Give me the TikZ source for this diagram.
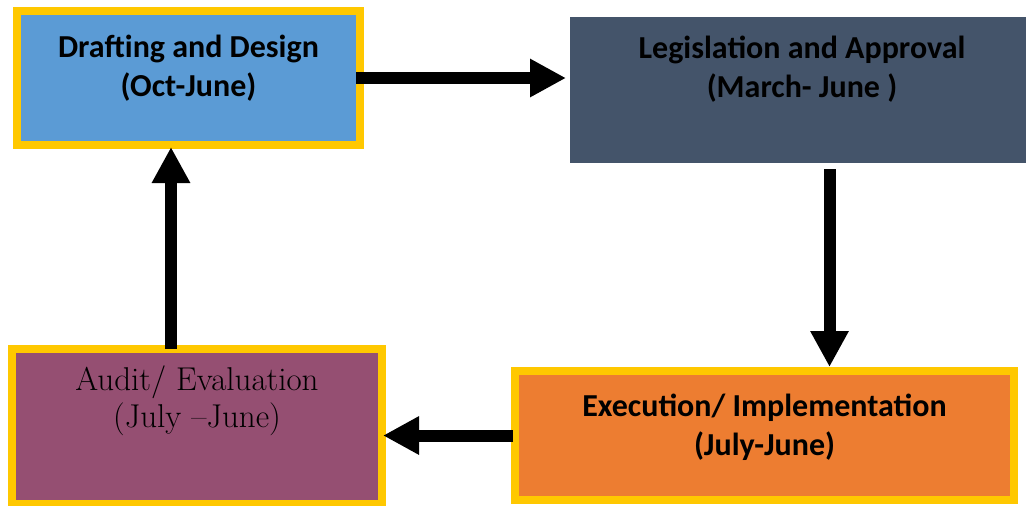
\documentclass[tikz,border=0pt]{standalone}
\usepackage{fontspec}
\setmainfont{Carlito}
\newfontfamily\auditfont{Latin Modern Roman}
\usetikzlibrary{arrows.meta}
\definecolor{gold}{HTML}{FFC800}
\definecolor{draftblue}{HTML}{5B9BD5}
\definecolor{lawslate}{HTML}{44546A}
\definecolor{runorange}{HTML}{ED7D31}
\definecolor{auditplum}{HTML}{954F72}
\begin{document}
\begin{tikzpicture}[x=0.5pt,y=-0.5pt,
  stage/.style={rectangle,draw=gold,line width=4pt,inner sep=0pt,align=center,
    font=\bfseries\fontsize{16}{19.5}\selectfont},
  flow/.style={line width=6pt,-{Triangle[length=18pt,width=18pt]}}]
  \useasboundingbox (0,0) rectangle (1026,505);
  \node[stage,fill=draftblue,minimum width=171.5pt,text height=42.5pt,text depth=24.5pt]
    (draft) at (188.5,78) {Drafting and Design\\(Oct-June)};
  \node[stage,draw=none,fill=lawslate,minimum width=232pt,text height=40pt,text depth=33pt]
    (legis) at (802,90) {Legislation and Approval\\(March- June )};
  \node[stage,fill=runorange,minimum width=249.5pt,text height=42pt,text depth=22.5pt]
    (exec) at (764.5,435.5) {Execution/ Implementation\\(July-June)};
  \node[stage,fill=auditplum,minimum width=185pt,text height=39pt,text depth=38.5pt,
    font=\auditfont\fontsize{16.5}{18.5}\selectfont]
    (audit) at (197,426.5) {Audit/ Evaluation\\(July –June)};
  % cycle arrows
  \draw[flow,shorten <=-4pt] (draft.east) -- (draft.east -| legis.west);
  \draw[flow] (829.5,169) -- (829.5,0 |- exec.north);
  \draw[flow,shorten <=-1pt,shorten >=-1.5pt] (exec.west) -- (exec.west -| audit.east);
  \draw[flow,shorten <=-2pt,shorten >=-1pt] (171,0 |- audit.north) -- (171,0 |- draft.south);
\end{tikzpicture}
\end{document}
